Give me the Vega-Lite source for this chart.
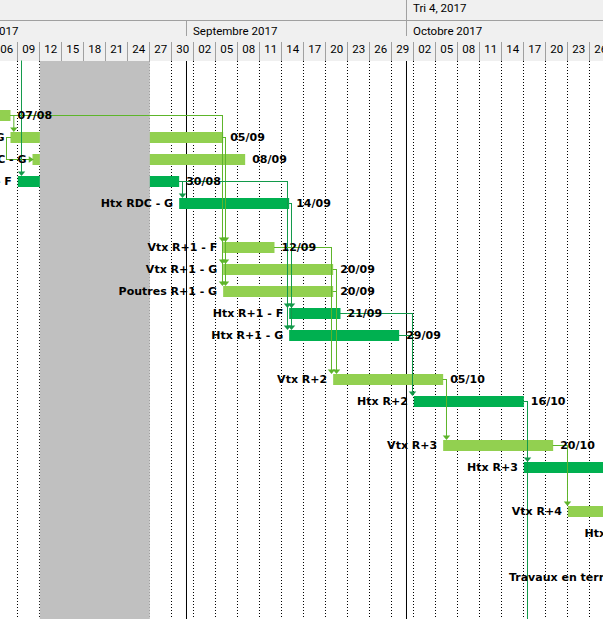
{
  "$schema": "https://vega.github.io/schema/vega-lite/v6.json",
  "width": 603,
  "height": 619,
  "padding": 0,
  "autosize": {"type": "none"},
  "background": "#FFFFFF",
  "config": {"view": {"stroke": null}, "axis": {"disable": true}, "legend": {"disable": true}},
  "datasets": {
    "one": [{"part": "timescale"}],
    "days": [
      {"d": "2017-08-06", "label": "06"}, {"d": "2017-08-09", "label": "09"}, {"d": "2017-08-12", "label": "12"},
      {"d": "2017-08-15", "label": "15"}, {"d": "2017-08-18", "label": "18"}, {"d": "2017-08-21", "label": "21"},
      {"d": "2017-08-24", "label": "24"}, {"d": "2017-08-27", "label": "27"}, {"d": "2017-08-30", "label": "30"},
      {"d": "2017-09-02", "label": "02"}, {"d": "2017-09-05", "label": "05"}, {"d": "2017-09-08", "label": "08"},
      {"d": "2017-09-11", "label": "11"}, {"d": "2017-09-14", "label": "14"}, {"d": "2017-09-17", "label": "17"},
      {"d": "2017-09-20", "label": "20"}, {"d": "2017-09-23", "label": "23"}, {"d": "2017-09-26", "label": "26"},
      {"d": "2017-09-29", "label": "29"}, {"d": "2017-10-02", "label": "02"}, {"d": "2017-10-05", "label": "05"},
      {"d": "2017-10-08", "label": "08"}, {"d": "2017-10-11", "label": "11"}, {"d": "2017-10-14", "label": "14"},
      {"d": "2017-10-17", "label": "17"}, {"d": "2017-10-20", "label": "20"}, {"d": "2017-10-23", "label": "23"},
      {"d": "2017-10-26", "label": "26"}
    ],
    "months": [
      {"d": "2017-08-01", "label": "Août 2017"},
      {"d": "2017-09-01", "label": "Septembre 2017"},
      {"d": "2017-10-01", "label": "Octobre 2017"}
    ],
    "quarters": [
      {"d": "2017-10-01", "label": "Tri 4, 2017"}
    ],
    "holidays": [{"start": "2017-08-12", "end": "2017-08-27"}],
    "tasks": [
      {"row": 2, "name": "Vtx RDC - F", "start": "2017-07-31", "end": "2017-08-08", "finish": "07/08", "type": "V"},
      {"row": 3, "name": "Vtx RDC - G", "start": "2017-08-08", "end": "2017-09-06", "finish": "05/09", "type": "V"},
      {"row": 4, "name": "Poutres RDC - G", "start": "2017-08-11", "end": "2017-09-09", "finish": "08/09", "type": "V"},
      {"row": 5, "name": "Htx RDC - F", "start": "2017-08-09", "end": "2017-08-31", "finish": "30/08", "type": "H"},
      {"row": 6, "name": "Htx RDC - G", "start": "2017-08-31", "end": "2017-09-15", "finish": "14/09", "type": "H"},
      {"row": 8, "name": "Vtx R+1 - F", "start": "2017-09-06", "end": "2017-09-13", "finish": "12/09", "type": "V"},
      {"row": 9, "name": "Vtx R+1 - G", "start": "2017-09-06", "end": "2017-09-21", "finish": "20/09", "type": "V"},
      {"row": 10, "name": "Poutres R+1 - G", "start": "2017-09-06", "end": "2017-09-21", "finish": "20/09", "type": "V"},
      {"row": 11, "name": "Htx R+1 - F", "start": "2017-09-15", "end": "2017-09-22", "finish": "21/09", "type": "H"},
      {"row": 12, "name": "Htx R+1 - G", "start": "2017-09-15", "end": "2017-09-30", "finish": "29/09", "type": "H"},
      {"row": 14, "name": "Vtx R+2", "start": "2017-09-21", "end": "2017-10-06", "finish": "05/10", "type": "V"},
      {"row": 15, "name": "Htx R+2", "start": "2017-10-02", "end": "2017-10-17", "finish": "16/10", "type": "H"},
      {"row": 17, "name": "Vtx R+3", "start": "2017-10-06", "end": "2017-10-21", "finish": "20/10", "type": "V"},
      {"row": 18, "name": "Htx R+3", "start": "2017-10-17", "end": "2017-11-01", "finish": "31/10", "type": "H"},
      {"row": 20, "name": "Vtx R+4", "start": "2017-10-23", "end": "2017-11-07", "finish": "06/11", "type": "V"},
      {"row": 21, "name": "Htx R+4", "start": "2017-11-02", "end": "2017-11-17", "finish": "16/11", "type": "H"},
      {"row": 23, "name": "Travaux en terrasse", "start": "2017-11-01T14:00:00Z", "end": "2017-11-20", "finish": "19/11", "type": "H"}
    ],
    "links": [
      {"x": "2017-08-09T12:00:00Z", "x2": "2017-08-09T12:00:00Z", "y": -0.477, "y2": 4.65, "type": "H"},
      {"x": "2017-08-08", "x2": "2017-09-05T21:49:00Z", "y": 2, "y2": 2, "type": "V"},
      {"x": "2017-08-08T10:55:00Z", "x2": "2017-08-08T10:55:00Z", "y": 2, "y2": 2.65, "type": "V"},
      {"x": "2017-09-05T21:49:00Z", "x2": "2017-09-05T21:49:00Z", "y": 2, "y2": 9.65, "type": "V"},
      {"x": "2017-09-06", "x2": "2017-09-06T07:38:00Z", "y": 3, "y2": 3, "type": "V"},
      {"x": "2017-09-06T07:38:00Z", "x2": "2017-09-06T07:38:00Z", "y": 3, "y2": 9.65, "type": "V"},
      {"x": "2017-08-08", "x2": "2017-08-07T10:55:00Z", "y": 3, "y2": 3, "type": "V"},
      {"x": "2017-08-07T10:55:00Z", "x2": "2017-08-07T10:55:00Z", "y": 3, "y2": 4, "type": "V"},
      {"x": "2017-08-07T10:55:00Z", "x2": "2017-08-10T14:00:00Z", "y": 4, "y2": 4, "type": "V"},
      {"x": "2017-08-31", "x2": "2017-09-14T18:33:00Z", "y": 5, "y2": 5, "type": "H"},
      {"x": "2017-08-31T10:55:00Z", "x2": "2017-08-31T10:55:00Z", "y": 5, "y2": 5.65, "type": "H"},
      {"x": "2017-09-14T18:33:00Z", "x2": "2017-09-14T18:33:00Z", "y": 5, "y2": 11.65, "type": "H"},
      {"x": "2017-09-15", "x2": "2017-09-15T07:38:00Z", "y": 6, "y2": 6, "type": "H"},
      {"x": "2017-09-15T07:38:00Z", "x2": "2017-09-15T07:38:00Z", "y": 6, "y2": 11.65, "type": "H"},
      {"x": "2017-09-13", "x2": "2017-09-20T18:33:00Z", "y": 8, "y2": 8, "type": "V"},
      {"x": "2017-09-20T18:33:00Z", "x2": "2017-09-20T18:33:00Z", "y": 8, "y2": 13.65, "type": "V"},
      {"x": "2017-09-21", "x2": "2017-09-21T10:55:00Z", "y": 9, "y2": 9, "type": "V"},
      {"x": "2017-09-21", "x2": "2017-09-21T10:55:00Z", "y": 10, "y2": 10, "type": "V"},
      {"x": "2017-09-21T10:55:00Z", "x2": "2017-09-21T10:55:00Z", "y": 9, "y2": 13.65, "type": "V"},
      {"x": "2017-09-22", "x2": "2017-10-01T19:38:00Z", "y": 11, "y2": 11, "type": "H"},
      {"x": "2017-09-30", "x2": "2017-10-01T19:38:00Z", "y": 12, "y2": 12, "type": "H"},
      {"x": "2017-10-01T19:38:00Z", "x2": "2017-10-01T19:38:00Z", "y": 11, "y2": 14.65, "type": "H"},
      {"x": "2017-10-06", "x2": "2017-10-06T10:55:00Z", "y": 14, "y2": 14, "type": "V"},
      {"x": "2017-10-06T10:55:00Z", "x2": "2017-10-06T10:55:00Z", "y": 14, "y2": 16.65, "type": "V"},
      {"x": "2017-10-17", "x2": "2017-10-17T12:00:00Z", "y": 15, "y2": 15, "type": "H"},
      {"x": "2017-10-17T12:00:00Z", "x2": "2017-10-17T12:00:00Z", "y": 15, "y2": 26, "type": "H"},
      {"x": "2017-10-21", "x2": "2017-10-22T22:55:00Z", "y": 17, "y2": 17, "type": "V"},
      {"x": "2017-10-22T22:55:00Z", "x2": "2017-10-22T22:55:00Z", "y": 17, "y2": 19.65, "type": "V"}
    ],
    "arrows": [
      {"x": "2017-08-09T12:00:00Z", "row": 5, "type": "H", "dir": "down"},
      {"x": "2017-08-08T10:55:00Z", "row": 3, "type": "V", "dir": "down"},
      {"x": "2017-09-05T21:49:00Z", "row": 8, "type": "V", "dir": "down"},
      {"x": "2017-09-05T21:49:00Z", "row": 9, "type": "V", "dir": "down"},
      {"x": "2017-09-05T21:49:00Z", "row": 10, "type": "V", "dir": "down"},
      {"x": "2017-09-06T07:38:00Z", "row": 8, "type": "V", "dir": "down"},
      {"x": "2017-09-06T07:38:00Z", "row": 9, "type": "V", "dir": "down"},
      {"x": "2017-09-06T07:38:00Z", "row": 10, "type": "V", "dir": "down"},
      {"x": "2017-08-31T10:55:00Z", "row": 6, "type": "H", "dir": "down"},
      {"x": "2017-09-14T18:33:00Z", "row": 11, "type": "H", "dir": "down"},
      {"x": "2017-09-14T18:33:00Z", "row": 12, "type": "H", "dir": "down"},
      {"x": "2017-09-15T07:38:00Z", "row": 11, "type": "H", "dir": "down"},
      {"x": "2017-09-15T07:38:00Z", "row": 12, "type": "H", "dir": "down"},
      {"x": "2017-09-20T18:33:00Z", "row": 14, "type": "V", "dir": "down"},
      {"x": "2017-09-21T10:55:00Z", "row": 14, "type": "V", "dir": "down"},
      {"x": "2017-10-01T19:38:00Z", "row": 15, "type": "H", "dir": "down"},
      {"x": "2017-10-06T10:55:00Z", "row": 17, "type": "V", "dir": "down"},
      {"x": "2017-10-17T12:00:00Z", "row": 18, "type": "H", "dir": "down"},
      {"x": "2017-10-22T22:55:00Z", "row": 20, "type": "V", "dir": "down"},
      {"x": "2017-08-10T20:00:00Z", "row": 4, "type": "V", "dir": "right"}
    ]
  },
  "resolve": {"scale": {"color": "independent", "stroke": "independent", "fill": "independent"}},
  "layer": [
    {
      "data": {"name": "one"},
      "mark": {"type": "rect", "color": "#F0F0F0"},
      "encoding": {
        "y": {"datum": -3.5, "type": "quantitative", "scale": {"domain": [-3.25, 24.886], "reverse": true, "nice": false, "zero": false}},
        "y2": {"datum": -0.477}
      }
    },
    {
      "data": {"name": "one"},
      "mark": {"type": "rule", "color": "#A0A0A0", "strokeWidth": 1},
      "encoding": {"y": {"datum": -2.318, "type": "quantitative"}}
    },
    {
      "data": {"name": "quarters"},
      "mark": {"type": "rule", "color": "#A0A0A0", "strokeWidth": 1},
      "encoding": {
        "x": {"field": "d", "type": "temporal", "scale": {"type": "utc", "nice": false, "domain": [{"year": 2017, "month": 8, "date": 6, "hours": 13, "minutes": 39, "utc": true}, {"year": 2017, "month": 10, "date": 27, "hours": 19, "minutes": 6, "utc": true}]}},
        "y": {"datum": -3.5, "type": "quantitative"},
        "y2": {"datum": -2.318}
      }
    },
    {
      "data": {"name": "months"},
      "mark": {"type": "rule", "color": "#A0A0A0", "strokeWidth": 1},
      "encoding": {
        "x": {"field": "d", "type": "temporal"},
        "y": {"datum": -2.318, "type": "quantitative"},
        "y2": {"datum": -1.614}
      }
    },
    {
      "data": {"name": "days"},
      "mark": {"type": "rule", "color": "#A0A0A0", "strokeWidth": 1, "xOffset": -0.33},
      "encoding": {
        "x": {"field": "d", "type": "temporal"},
        "y": {"datum": -1.341, "type": "quantitative"},
        "y2": {"datum": -0.477}
      }
    },
    {
      "data": {"name": "quarters"},
      "mark": {"type": "text", "align": "left", "baseline": "alphabetic", "dx": 6.5, "dy": 6.5, "font": "Roboto", "fontSize": 11.5, "color": "#000000"},
      "encoding": {
        "x": {"field": "d", "type": "temporal"},
        "y": {"datum": -3, "type": "quantitative"},
        "text": {"field": "label"}
      }
    },
    {
      "data": {"name": "months"},
      "mark": {"type": "text", "align": "left", "baseline": "alphabetic", "dx": 6.5, "dy": 7, "font": "Roboto", "fontSize": 11.5, "color": "#000000"},
      "encoding": {
        "x": {"field": "d", "type": "temporal"},
        "y": {"datum": -2, "type": "quantitative"},
        "text": {"field": "label"}
      }
    },
    {
      "data": {"name": "days"},
      "mark": {"type": "text", "align": "left", "baseline": "alphabetic", "dx": 4.5, "dy": 3, "font": "Roboto", "fontSize": 11.5, "color": "#000000"},
      "encoding": {
        "x": {"field": "d", "type": "temporal"},
        "y": {"datum": -1, "type": "quantitative"},
        "text": {"field": "label"}
      }
    },
    {
      "data": {"name": "days"},
      "mark": {"type": "rule", "color": "#000000", "strokeWidth": 1, "strokeDash": [1, 2], "xOffset": -0.33},
      "encoding": {
        "x": {"field": "d", "type": "temporal"},
        "y": {"datum": -0.477, "type": "quantitative"},
        "y2": {"datum": 26}
      }
    },
    {
      "data": {"name": "months"},
      "mark": {"type": "rule", "color": "#000000", "strokeWidth": 1},
      "encoding": {
        "x": {"field": "d", "type": "temporal"},
        "y": {"datum": -0.477, "type": "quantitative"},
        "y2": {"datum": 26}
      }
    },
    {
      "data": {"name": "tasks"},
      "mark": {"type": "rule", "strokeWidth": 11, "strokeCap": "butt"},
      "encoding": {
        "x": {"field": "start", "type": "temporal"},
        "x2": {"field": "end"},
        "y": {"field": "row", "type": "quantitative"},
        "color": {"field": "type", "type": "nominal", "scale": {"domain": ["V", "H"], "range": ["#92D050", "#00B050"]}}
      }
    },
    {
      "data": {"name": "holidays"},
      "mark": {"type": "rect", "color": "#C0C0C0"},
      "encoding": {
        "x": {"field": "start", "type": "temporal"},
        "x2": {"field": "end"},
        "y": {"datum": -0.477, "type": "quantitative"},
        "y2": {"datum": 26}
      }
    },
    {
      "data": {"name": "links"},
      "mark": {"type": "rule", "strokeWidth": 1, "strokeCap": "square"},
      "encoding": {
        "x": {"field": "x", "type": "temporal"},
        "x2": {"field": "x2"},
        "y": {"field": "y", "type": "quantitative"},
        "y2": {"field": "y2"},
        "color": {"field": "type", "type": "nominal", "scale": {"domain": ["V", "H"], "range": ["#5DB52A", "#12994A"]}}
      }
    },
    {
      "data": {"name": "arrows"},
      "transform": [{"filter": "datum.dir === 'down'"}],
      "mark": {"type": "point", "filled": true, "opacity": 1, "size": 56, "shape": "M-1,-0.57L1,-0.57L0,0.57Z", "yOffset": -7.75},
      "encoding": {
        "x": {"field": "x", "type": "temporal"},
        "y": {"field": "row", "type": "quantitative"},
        "color": {"field": "type", "type": "nominal", "scale": {"domain": ["V", "H"], "range": ["#5DB52A", "#12994A"]}}
      }
    },
    {
      "data": {"name": "arrows"},
      "transform": [{"filter": "datum.dir === 'right'"}],
      "mark": {"type": "point", "filled": true, "opacity": 1, "size": 45, "shape": "M-0.75,-1L0.75,0L-0.75,1Z"},
      "encoding": {
        "x": {"field": "x", "type": "temporal"},
        "y": {"field": "row", "type": "quantitative"},
        "color": {"field": "type", "type": "nominal", "scale": {"domain": ["V", "H"], "range": ["#5DB52A", "#12994A"]}}
      }
    },
    {
      "data": {"name": "tasks"},
      "mark": {"type": "text", "align": "right", "baseline": "alphabetic", "dx": -6, "dy": 3, "font": "DejaVu Sans", "fontWeight": "bold", "fontSize": 11, "color": "#000000"},
      "encoding": {
        "x": {"field": "start", "type": "temporal"},
        "y": {"field": "row", "type": "quantitative"},
        "text": {"field": "name"}
      }
    },
    {
      "data": {"name": "tasks"},
      "mark": {"type": "text", "align": "left", "baseline": "alphabetic", "dx": 7, "dy": 3, "font": "DejaVu Sans", "fontWeight": "bold", "fontSize": 11, "color": "#000000"},
      "encoding": {
        "x": {"field": "end", "type": "temporal"},
        "y": {"field": "row", "type": "quantitative"},
        "text": {"field": "finish"}
      }
    }
  ]
}
